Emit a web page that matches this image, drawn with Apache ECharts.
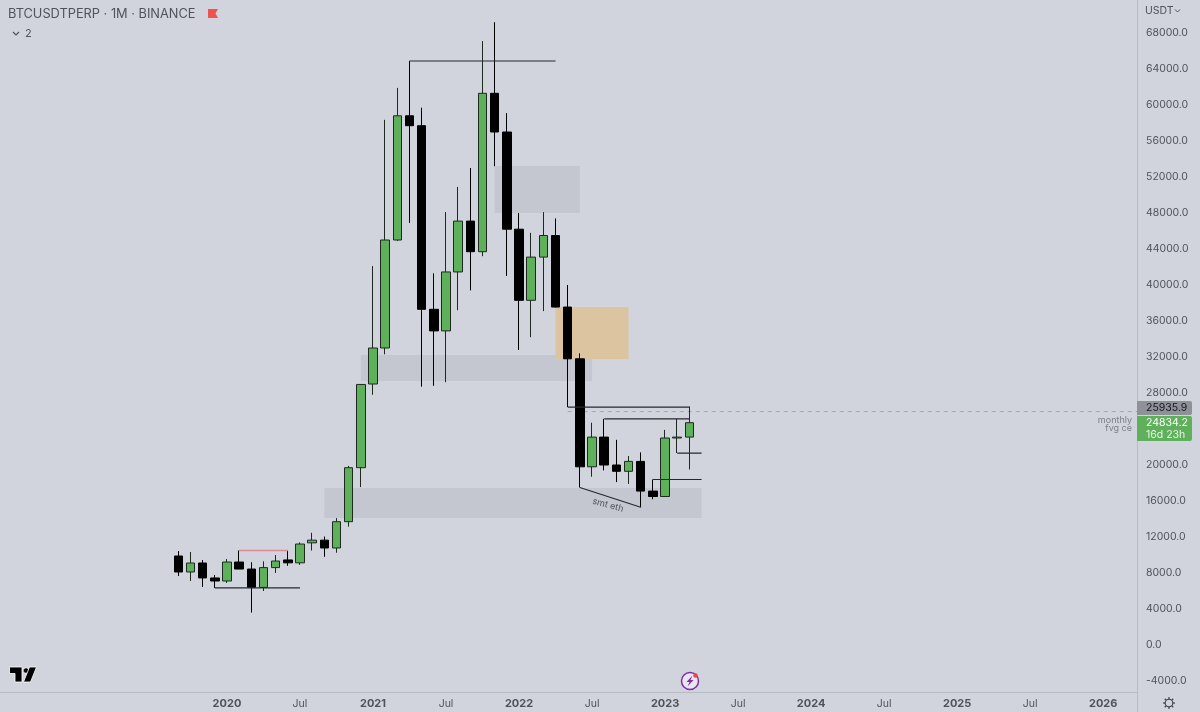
<!DOCTYPE html>
<html><head><meta charset="utf-8">
<style>html,body{margin:0;padding:0;background:#d1d4dc}#c{width:1200px;height:712px}</style>
<script src="https://cdn.jsdelivr.net/npm/echarts@6/dist/echarts.min.js"></script>
</head><body><div id="c"></div>
<script>
// Months shown on the time scale
const firstMonth = [2018, 7];
const monthCount = 94;
const dataStartMonth = '2019-09';
const tickValues = [-4000,0,4000,8000,12000,16000,20000,24000,28000,32000,36000,40000,44000,48000,52000,56000,60000,64000,68000];

// Monthly candles from 2019-09 to 2023-03
const opens  = [9890,8110,9110,7450,7110,9220,8440,6400,8600,9450,9130,11350,11650,10780,13700,19700,29000,33000,45000,58800,57700,37300,34900,41450,47100,43700,61300,57000,46200,38300,43100,45500,37550,31800,19800,23100,20000,19300,20400,17100,16500,23000,23100];
const closes = [8110,9110,7450,7110,9220,8440,6400,8600,9330,9130,11220,11650,10780,13700,19700,28950,33000,45000,58800,57700,37300,34900,41450,47100,43700,61300,57000,46200,38300,43100,45500,37550,31800,19800,23100,20000,19300,20400,17100,16500,23000,23100,24700];
const lows   = [7670,7110,6440,6340,6890,8440,3600,6000,8000,8800,8900,10500,9800,10250,13150,17550,27800,32300,44900,46900,28700,28800,29200,37200,39400,43200,53200,41000,32780,34200,37100,37500,26440,17500,18700,19400,18100,17900,15300,16200,16500,21330,19500];
const highs  = [10440,10330,9440,7780,9550,10500,9200,9300,10000,10500,11400,12470,12050,14100,19900,29000,42100,58350,61900,64890,59700,41300,48100,50900,53000,67100,69200,59100,48000,45800,48100,47400,40000,32400,24700,25130,22800,21000,21400,18390,23900,25130,26500];

// Drawn levels: [from month, to month, price at start, price at end]
const blackLevels = [
  ['2021-04','2022-04',64890,64890],
  ['2019-12','2020-07',6340,6340],
  ['2022-05','2023-03',26440,26440],
  ['2022-08','2023-03',25130,25130],
  ['2023-02','2023-04',21330,21330],
  ['2022-12','2023-04',18390,18390],
  ['2022-06','2022-11',17500,15300]
];
const redLevels = [['2020-02','2020-06',10500,10500]];

// Boxes: [from month, to month, top price, bottom price]
const greyZones = [
  ['2021-11','2022-06',53220,48000],
  ['2020-12','2022-07',32220,29330],
  ['2020-09','2023-04',17440,14110]
];
const orangeZones = [['2022-04','2022-10',37550,31780]];

const lastPrice = 24834.2;
const markPrice = 25935.9;

const months = [];
for (let i = 0, y = firstMonth[0], m = firstMonth[1]; i < monthCount; i++) {
  months.push(y + '-' + String(m).padStart(2,'0'));
  if (++m > 12) { m = 1; y++; }
}
const startIdx = months.indexOf(dataStartMonth);
const candleData = months.map((_, i) => {
  const k = i - startIdx;
  return (k >= 0 && k < opens.length) ? [opens[k], closes[k], lows[k], highs[k]] : ['-','-','-','-'];
});

const levelSeries = (rows, color, z, width) => rows.map(r => ({
  type:'line', silent:true, symbol:'none', z, animation:false,
  lineStyle:{color, width},
  data:[[r[0], r[2]], [r[1], r[3]]]
}));
const zoneSeries = (rows, color) => ({
  type:'line', silent:true, symbol:'none', z:1, animation:false, data:[],
  markArea:{silent:true, animation:false, itemStyle:{color},
    data: rows.map(r => [{xAxis:r[0], yAxis:r[2]}, {xAxis:r[1], yAxis:r[3]}])}
});

const FONT = 'Inter, "Liberation Sans", sans-serif';
const BG = '#d1d4dc', INK = '#4f525c', GREEN = '#5fb05b';

const chart = echarts.init(document.getElementById('c'), null, {renderer:'canvas'});
chart.setOption({
  animation:false,
  backgroundColor:BG,
  textStyle:{fontFamily:FONT},
  grid:{left:1.8, right:54.2, top:0, height:681},
  xAxis:{
    type:'category', data:months, boundaryGap:true, offset:11,
    axisLine:{show:false}, axisTick:{show:false}, splitLine:{show:false},
    axisLabel:{
      color:INK, fontSize:10.5, fontFamily:FONT, margin:6, hideOverlap:false,
      interval:(i,v)=> v >= '2020-01' && (v.endsWith('-01') || v.endsWith('-07')),
      formatter:v => v.endsWith('-01') ? '{y|'+v.slice(0,4)+'}' : 'Jul',
      rich:{y:{fontWeight:'bold', fontSize:11, color:INK, fontFamily:FONT}}
    }
  },
  yAxis:{
    type:'value', position:'right', offset:-8.8, min:-4000, max:71667, interval:4000,
    splitLine:{show:false}, axisTick:{show:false},
    axisLine:{show:false},
    axisLabel:{
      color:INK, fontSize:10.5, fontFamily:FONT, margin:9, padding:[2,0,0,0],
      showMaxLabel:false,
      formatter:v => tickValues.includes(v) ? v.toFixed(1) : ''
    }
  },
  series:[
    zoneSeries(greyZones,'rgba(178,181,190,0.42)'),
    zoneSeries(orangeZones,'#dcc4a1'),
    {
      type:'candlestick', data:candleData, barWidth:9, z:3, silent:true, animation:false,
      itemStyle:{color:GREEN, color0:'#000000', borderColor:'#1c2a1e', borderColor0:'#000000', borderWidth:1}
    },
    ...levelSeries(blackLevels,'#26282e',4,1.2),
    ...levelSeries(redLevels,'#d98a8e',4,1.5),
    {
      type:'line', silent:true, symbol:'none', z:2, animation:false,
      lineStyle:{color:'#a4a7b0', width:1, type:[4,4]},
      data:[['2022-05',markPrice],[months[monthCount-1],markPrice]]
    }
  ],
  graphic:[
    {type:'line', silent:true, z:50, shape:{x1:1137.5,y1:0,x2:1137.5,y2:712}, style:{stroke:'#b8bbc4',lineWidth:1}},
    {type:'line', silent:true, z:50, shape:{x1:0,y1:692.5,x2:1137,y2:692.5}, style:{stroke:'#b8bbc4',lineWidth:1}},
    // header
    {type:'text', silent:true, z:60, style:{x:8,y:14,text:'BTCUSDTPERP · 1M · BINANCE',font:'12.8px '+FONT,fill:'#50535e',textVerticalAlign:'middle'}},
    {type:'polygon', silent:true, z:60, shape:{points:[[208,9],[218,9],[215.5,13.5],[218,18],[208,18]]}, style:{fill:'#ef5350'}},
    {type:'polyline', silent:true, z:60, shape:{points:[[13,32],[16,35],[19,32]]}, style:{stroke:'#50535e',lineWidth:1.2,fill:null}},
    {type:'text', silent:true, z:60, style:{x:25,y:34,text:'2',font:'11px '+FONT,fill:'#50535e',textVerticalAlign:'middle'}},
    {type:'text', silent:true, z:60, style:{x:1145,y:11,text:'USDT',font:'10.5px '+FONT,fill:INK,textVerticalAlign:'middle'}},
    {type:'polyline', silent:true, z:60, shape:{points:[[1175,9.5],[1177.5,12],[1180,9.5]]}, style:{stroke:INK,lineWidth:1,fill:null}},
    // annotations
    {type:'text', silent:true, z:60, rotation:-0.27, x:608, y:505, style:{x:0,y:0,text:'smt eth',font:'9px '+FONT,fill:'#4f525c',textAlign:'center',textVerticalAlign:'middle'}},
    {type:'text', silent:true, z:60, style:{x:1132,y:420,text:'monthly',font:'9px '+FONT,fill:'#7b7e88',textAlign:'right',textVerticalAlign:'middle'}},
    {type:'text', silent:true, z:60, style:{x:1132,y:428,text:'fvg ce',font:'9px '+FONT,fill:'#7b7e88',textAlign:'right',textVerticalAlign:'middle'}},
    // price tags
    {type:'rect', silent:true, z:60, shape:{x:1137,y:401,width:55,height:14,r:[0,2,2,0]}, style:{fill:'#8f9199'}},
    {type:'text', silent:true, z:61, style:{x:1146,y:408,text:markPrice.toFixed(1),font:'10.5px '+FONT,fill:'#14161b',textVerticalAlign:'middle'}},
    {type:'rect', silent:true, z:60, shape:{x:1137,y:416,width:55,height:25,r:[0,2,2,0]}, style:{fill:GREEN}},
    {type:'text', silent:true, z:61, style:{x:1146,y:422.5,text:lastPrice.toFixed(1),font:'10.5px '+FONT,fill:'#ffffff',textVerticalAlign:'middle'}},
    {type:'text', silent:true, z:61, style:{x:1146,y:434.5,text:'16d 23h',font:'10.5px '+FONT,fill:'#e8f5e6',textVerticalAlign:'middle'}},
    // TradingView mark
    {type:'polygon', silent:true, z:60, shape:{points:[[9.5,667],[22,667],[22,682],[15,682],[15,673.5],[9.5,673.5]]}, style:{fill:'#000',stroke:'#fff',lineWidth:0.8}},
    {type:'circle', silent:true, z:60, shape:{cx:26,cy:670.5,r:2.6}, style:{fill:'#000',stroke:'#fff',lineWidth:0.5}},
    {type:'polygon', silent:true, z:60, shape:{points:[[29.5,667],[36.5,667],[30.5,682],[23.5,682]]}, style:{fill:'#000',stroke:'#fff',lineWidth:0.8}},
    // lightning badge
    {type:'circle', silent:true, z:60, shape:{cx:690,cy:681,r:8.5}, style:{fill:'#e9e6ef',stroke:'#7b2fa8',lineWidth:1.5}},
    {type:'polygon', silent:true, z:61, shape:{points:[[692.5,675.5],[686.5,682],[689.5,682],[687.5,686.5],[693.5,680],[690.5,680]]}, style:{fill:'#7b2fa8'}},
    {type:'circle', silent:true, z:62, shape:{cx:695.5,cy:675.5,r:2.2}, style:{fill:'#e2474c'}},
    // settings gear
    {type:'circle', silent:true, z:60, shape:{cx:1169,cy:703,r:3.8}, style:{fill:null,stroke:'#3c3f48',lineWidth:1.1}},
    ...[0,45,90,135,180,225,270,315].map(a => {
      const t=a*Math.PI/180;
      return {type:'line',silent:true,z:60,shape:{x1:1169+3.8*Math.cos(t),y1:703+3.8*Math.sin(t),x2:1169+6*Math.cos(t),y2:703+6*Math.sin(t)},style:{stroke:'#3c3f48',lineWidth:1.2}};
    })
  ]
});
</script></body></html>
